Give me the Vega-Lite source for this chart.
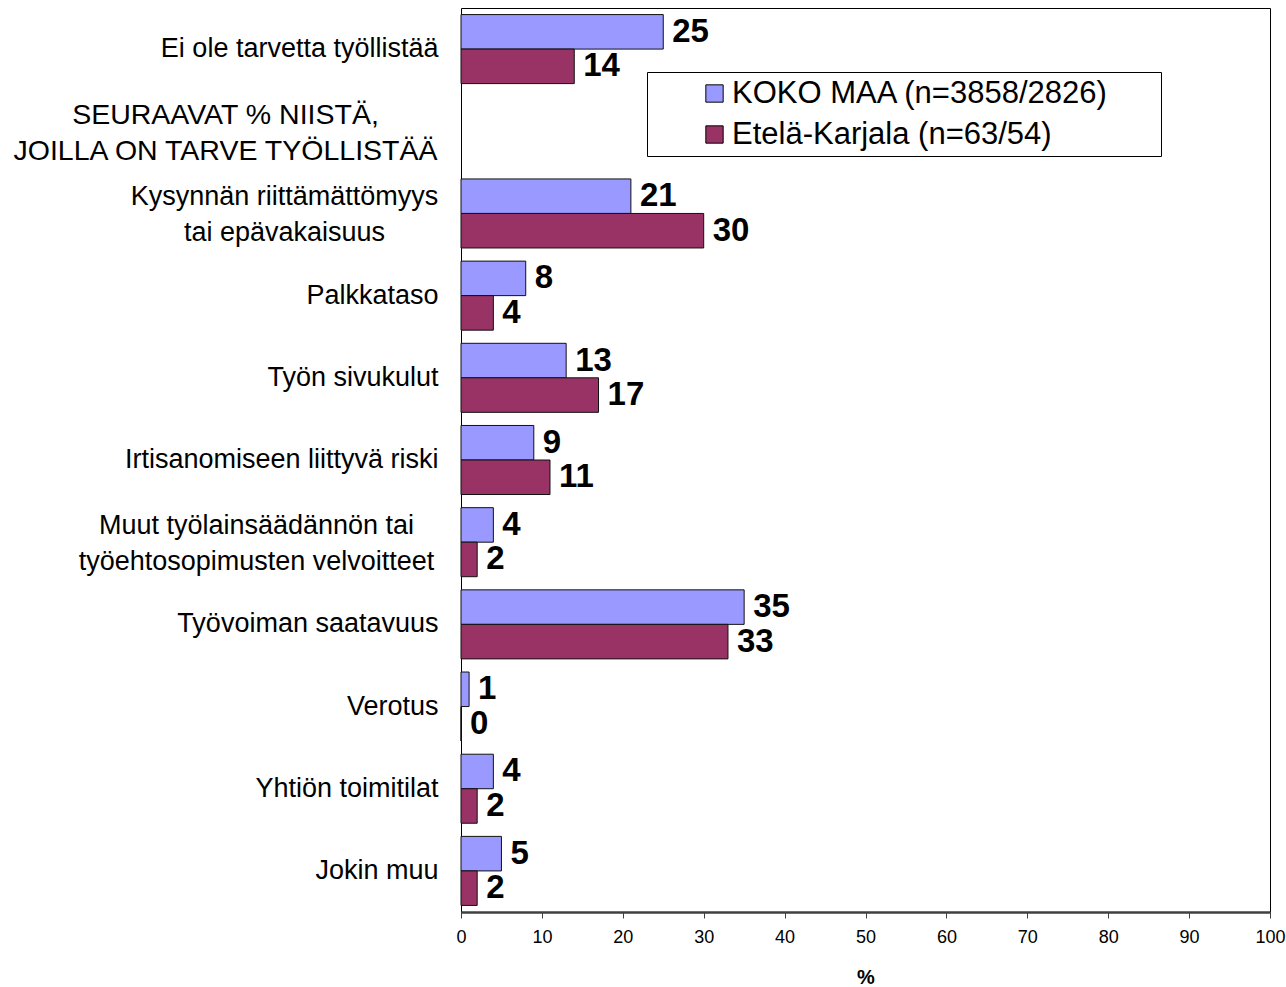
{
  "$schema": "https://vega.github.io/schema/vega-lite/v6.json",
  "autosize": "none",
  "padding": {"left": 461, "top": 8, "right": 16, "bottom": 75},
  "width": 809,
  "height": 904,
  "background": "white",
  "config": {
    "font": "Liberation Sans",
    "view": {"stroke": "black", "strokeWidth": 1}
  },
  "data": {
    "values": [
      {"kysymys": "Ei ole tarvetta työllistää", "sarja": "KOKO MAA (n=3858/2826)", "arvo": 25},
      {"kysymys": "Ei ole tarvetta työllistää", "sarja": "Etelä-Karjala (n=63/54)", "arvo": 14},
      {"kysymys": "Kysynnän riittämättömyys tai epävakaisuus", "sarja": "KOKO MAA (n=3858/2826)", "arvo": 21},
      {"kysymys": "Kysynnän riittämättömyys tai epävakaisuus", "sarja": "Etelä-Karjala (n=63/54)", "arvo": 30},
      {"kysymys": "Palkkataso", "sarja": "KOKO MAA (n=3858/2826)", "arvo": 8},
      {"kysymys": "Palkkataso", "sarja": "Etelä-Karjala (n=63/54)", "arvo": 4},
      {"kysymys": "Työn sivukulut", "sarja": "KOKO MAA (n=3858/2826)", "arvo": 13},
      {"kysymys": "Työn sivukulut", "sarja": "Etelä-Karjala (n=63/54)", "arvo": 17},
      {"kysymys": "Irtisanomiseen liittyvä riski", "sarja": "KOKO MAA (n=3858/2826)", "arvo": 9},
      {"kysymys": "Irtisanomiseen liittyvä riski", "sarja": "Etelä-Karjala (n=63/54)", "arvo": 11},
      {"kysymys": "Muut työlainsäädännön tai työehtosopimusten velvoitteet", "sarja": "KOKO MAA (n=3858/2826)", "arvo": 4},
      {"kysymys": "Muut työlainsäädännön tai työehtosopimusten velvoitteet", "sarja": "Etelä-Karjala (n=63/54)", "arvo": 2},
      {"kysymys": "Työvoiman saatavuus", "sarja": "KOKO MAA (n=3858/2826)", "arvo": 35},
      {"kysymys": "Työvoiman saatavuus", "sarja": "Etelä-Karjala (n=63/54)", "arvo": 33},
      {"kysymys": "Verotus", "sarja": "KOKO MAA (n=3858/2826)", "arvo": 1},
      {"kysymys": "Verotus", "sarja": "Etelä-Karjala (n=63/54)", "arvo": 0},
      {"kysymys": "Yhtiön toimitilat", "sarja": "KOKO MAA (n=3858/2826)", "arvo": 4},
      {"kysymys": "Yhtiön toimitilat", "sarja": "Etelä-Karjala (n=63/54)", "arvo": 2},
      {"kysymys": "Jokin muu", "sarja": "KOKO MAA (n=3858/2826)", "arvo": 5},
      {"kysymys": "Jokin muu", "sarja": "Etelä-Karjala (n=63/54)", "arvo": 2}
    ]
  },
  "encoding": {
    "y": {
      "field": "kysymys",
      "type": "nominal",
      "scale": {
        "domain": [
          "Ei ole tarvetta työllistää",
          "SEURAAVAT % NIISTÄ, JOILLA ON TARVE TYÖLLISTÄÄ",
          "Kysynnän riittämättömyys tai epävakaisuus",
          "Palkkataso",
          "Työn sivukulut",
          "Irtisanomiseen liittyvä riski",
          "Muut työlainsäädännön tai työehtosopimusten velvoitteet",
          "Työvoiman saatavuus",
          "Verotus",
          "Yhtiön toimitilat",
          "Jokin muu"
        ],
        "paddingInner": 0.16,
        "paddingOuter": 0.08
      },
      "axis": {
        "title": null,
        "ticks": false,
        "tickSize": 0,
        "domain": false,
        "labelFont": "Liberation Sans",
        "labelFontSize": {
          "condition": {"test": "datum.value == 'SEURAAVAT % NIISTÄ, JOILLA ON TARVE TYÖLLISTÄÄ'", "value": 28.5},
          "value": 27
        },
        "labelColor": "black",
        "labelLimit": 600,
        "labelLineHeight": 36,
        "labelExpr": "datum.value == 'SEURAAVAT % NIISTÄ, JOILLA ON TARVE TYÖLLISTÄÄ' ? ['SEURAAVAT % NIISTÄ,', 'JOILLA ON TARVE TYÖLLISTÄÄ'] : datum.value == 'Kysynnän riittämättömyys tai epävakaisuus' ? ['Kysynnän riittämättömyys', 'tai epävakaisuus'] : datum.value == 'Muut työlainsäädännön tai työehtosopimusten velvoitteet' ? ['Muut työlainsäädännön tai', 'työehtosopimusten velvoitteet'] : datum.value",
        "labelAlign": {
          "condition": {"test": "datum.value == 'SEURAAVAT % NIISTÄ, JOILLA ON TARVE TYÖLLISTÄÄ' || datum.value == 'Kysynnän riittämättömyys tai epävakaisuus' || datum.value == 'Muut työlainsäädännön tai työehtosopimusten velvoitteet'", "value": "center"},
          "value": "right"
        },
        "labelOffset": {
          "condition": {"test": "datum.value == 'SEURAAVAT % NIISTÄ, JOILLA ON TARVE TYÖLLISTÄÄ' || datum.value == 'Kysynnän riittämättömyys tai epävakaisuus' || datum.value == 'Muut työlainsäädännön tai työehtosopimusten velvoitteet'", "value": -16},
          "value": 0
        },
        "labelPadding": {
          "condition": [
            {"test": "datum.value == 'SEURAAVAT % NIISTÄ, JOILLA ON TARVE TYÖLLISTÄÄ'", "value": 236},
            {"test": "datum.value == 'Kysynnän riittämättömyys tai epävakaisuus'", "value": 177},
            {"test": "datum.value == 'Muut työlainsäädännön tai työehtosopimusten velvoitteet'", "value": 205}
          ],
          "value": 23
        }
      }
    }
  },
  "layer": [
    {
      "mark": {"type": "bar", "stroke": "#111", "strokeWidth": 1},
      "encoding": {
        "x": {
          "field": "arvo",
          "type": "quantitative",
          "scale": {"domain": [0, 100], "nice": false},
          "axis": {
            "title": "%",
            "titleFont": "Liberation Sans",
            "titleFontSize": 20,
            "titleFontWeight": "bold",
            "titleColor": "black",
            "titlePadding": 21,
            "values": [0, 10, 20, 30, 40, 50, 60, 70, 80, 90, 100],
            "grid": false,
            "domainColor": "#404040",
            "domainWidth": 2.5,
            "tickColor": "#404040",
            "tickSize": 6,
            "labelFont": "Liberation Sans",
            "labelFontSize": 18,
            "labelColor": "black",
            "labelPadding": 10,
            "labelFlush": false
          }
        },
        "yOffset": {
          "field": "sarja",
          "type": "nominal",
          "sort": ["KOKO MAA (n=3858/2826)", "Etelä-Karjala (n=63/54)"],
          "scale": {"paddingInner": 0, "paddingOuter": 0}
        },
        "fill": {
          "field": "sarja",
          "type": "nominal",
          "sort": ["KOKO MAA (n=3858/2826)", "Etelä-Karjala (n=63/54)"],
          "scale": {"domain": ["KOKO MAA (n=3858/2826)", "Etelä-Karjala (n=63/54)"], "range": ["#9999FF", "#993366"]},
          "legend": {
            "title": " ",
            "titleOrient": "left",
            "titlePadding": 46,
            "titleFontSize": 6,
            "orient": "none",
            "legendX": 186,
            "legendY": 64,
            "strokeColor": "black",
            "fillColor": "white",
            "padding": 6,
            "symbolType": "square",
            "symbolSize": 300,
            "symbolStrokeColor": "black",
            "symbolStrokeWidth": 1,
            "labelFont": "Liberation Sans",
            "labelFontSize": 31,
            "labelColor": "black",
            "labelLimit": 800,
            "labelOffset": 2,
            "rowPadding": 9,
            "labelExpr": "datum.label + '\u2800\u2800'"
          }
        }
      }
    },
    {
      "mark": {"type": "text", "align": "left", "baseline": "middle", "dx": 9, "font": "Liberation Sans", "fontSize": 33, "fontWeight": "bold", "color": "black"},
      "encoding": {
        "x": {"field": "arvo", "type": "quantitative"},
        "yOffset": {"field": "sarja", "type": "nominal", "sort": ["KOKO MAA (n=3858/2826)", "Etelä-Karjala (n=63/54)"]},
        "text": {"field": "arvo", "type": "quantitative"}
      }
    }
  ]
}
